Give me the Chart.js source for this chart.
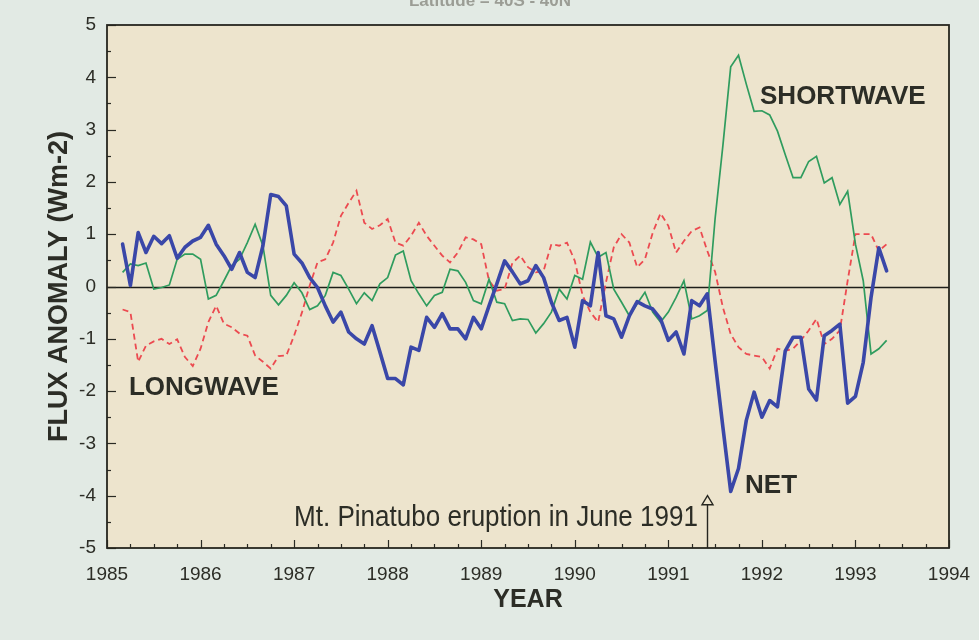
<!DOCTYPE html>
<html>
<head>
<meta charset="utf-8">
<script src="https://cdn.jsdelivr.net/npm/chart.js@4.4.1/dist/chart.umd.min.js"></script>
<style>
html,body{margin:0;padding:0;background:#e2eae4;}
#wrap{width:979px;height:640px;}
canvas{display:block;}
</style>
</head>
<body>
<div id="wrap"><canvas id="c" width="979" height="640"></canvas></div>
<script>
// ---- data (monthly anomalies, W m-2), first point March 1985 ----
const firstYear = 1985;
const firstMonth = 3;
const netFlux = [0.81,0.02,1.03,0.65,0.96,0.82,0.97,0.54,0.75,0.87,
  0.94,1.17,0.81,0.59,0.33,0.65,0.27,0.17,0.78,1.76,
  1.72,1.54,0.62,0.45,0.17,-0.02,-0.37,-0.68,-0.49,-0.87,
  -1.0,-1.10,-0.75,-1.25,-1.76,-1.76,-1.88,-1.16,-1.22,-0.59,
  -0.78,-0.52,-0.81,-0.81,-1.0,-0.59,-0.81,-0.37,0.05,0.49,
  0.28,0.05,0.11,0.40,0.17,-0.30,-0.65,-0.59,-1.16,-0.27,
  -0.37,0.65,-0.56,-0.62,-0.97,-0.56,-0.29,-0.37,-0.43,-0.62,
  -1.03,-0.87,-1.29,-0.27,-0.37,-0.14,-1.43,-2.69,-3.92,-3.48,
  -2.56,-2.02,-2.50,-2.18,-2.30,-1.23,-0.97,-0.97,-1.96,-2.17,
  -0.94,-0.84,-0.72,-2.23,-2.10,-1.45,-0.21,0.74,0.30];
const shortwave = [0.27,0.43,0.40,0.45,-0.05,-0.02,0.03,0.52,0.62,0.62,
  0.52,-0.24,-0.17,0.11,0.40,0.52,0.84,1.19,0.78,-0.17,
  -0.35,-0.17,0.07,-0.12,-0.44,-0.37,-0.17,0.27,0.21,-0.05,
  -0.33,-0.12,-0.27,0.05,0.17,0.60,0.68,0.11,-0.14,-0.37,
  -0.17,-0.11,0.33,0.30,0.08,-0.27,-0.33,0.14,-0.30,-0.33,
  -0.65,-0.62,-0.63,-0.89,-0.71,-0.49,-0.05,-0.24,0.21,0.14,
  0.85,0.56,0.65,-0.05,-0.30,-0.56,-0.33,-0.11,-0.49,-0.68,
  -0.49,-0.21,0.11,-0.62,-0.56,-0.46,1.3,2.7,4.2,4.42,
  3.87,3.35,3.36,3.28,2.97,2.52,2.08,2.08,2.39,2.49,
  1.98,2.08,1.57,1.82,0.81,0.11,-1.29,-1.19,-1.03];
const longwave = [-0.44,-0.49,-1.44,-1.13,-1.05,-1.0,-1.10,-1.01,-1.35,-1.52,
  -1.19,-0.68,-0.37,-0.71,-0.78,-0.90,-0.94,-1.32,-1.44,-1.57,
  -1.33,-1.32,-0.94,-0.50,0.02,0.46,0.52,0.84,1.35,1.60,
  1.83,1.22,1.10,1.17,1.29,0.84,0.78,0.97,1.22,0.97,
  0.78,0.59,0.46,0.65,0.94,0.90,0.81,0.11,-0.08,-0.05,
  0.45,0.59,0.37,0.27,0.30,0.81,0.78,0.84,0.49,-0.17,
  -0.49,-0.68,0.08,0.75,1.0,0.84,0.37,0.52,1.03,1.40,
  1.16,0.65,0.87,1.06,1.13,0.68,0.28,-0.40,-0.91,-1.16,
  -1.29,-1.32,-1.35,-1.57,-1.19,-1.23,-1.19,-1.03,-0.84,-0.62,
  -1.10,-1.0,-0.84,0.11,1.0,1.0,1.0,0.68,0.81];
const xTickLabels = ['1985','1986','1987','1988','1989','1990','1991','1992','1993','1994'];
const yTickLabels = ['-5','-4','-3','-2','-1','0','1','2','3','4','5'];
const seriesNames = ['NET','SHORTWAVE','LONGWAVE'];
const eruptionYear = 1991 + 5/12;
const eruptionText = 'Mt. Pinatubo eruption in June 1991';
const xTitle = 'YEAR';
const yTitle = 'FLUX ANOMALY (Wm-2)';
const topText = 'Latitude = 40S - 40N';

// ---- build ----
const monthPos = netFlux.map((_, i) => firstYear + (firstMonth - 1 + i) / 12);
const toPoints = arr => arr.map((v, i) => ({x: monthPos[i], y: v}));

const FONT = '"Liberation Sans", Arial, Helvetica, sans-serif';
const INK = '#2c2d26';
const PAGE_BG = '#e2eae4';
const PLOT_BG = '#ede4cd';

const decor = {
  id: 'decor',
  beforeDraw(chart) {
    const {ctx, chartArea: a} = chart;
    ctx.save();
    ctx.fillStyle = PAGE_BG;
    ctx.fillRect(0, 0, chart.width, chart.height);
    ctx.fillStyle = PLOT_BG;
    ctx.fillRect(a.left, a.top, a.right - a.left, a.bottom - a.top);
    ctx.restore();
  },
  beforeDatasetsDraw(chart) {
    const {ctx, chartArea: a, scales: {y}} = chart;
    ctx.save();
    ctx.strokeStyle = '#1e1e1a';
    ctx.lineWidth = 1.3;
    const y0 = Math.round(y.getPixelForValue(0)) + 0.5;
    ctx.beginPath(); ctx.moveTo(a.left, y0); ctx.lineTo(a.right, y0); ctx.stroke();
    ctx.restore();
  },
  afterDatasetsDraw(chart) {
    const {ctx, chartArea: a, scales: {x, y}} = chart;
    ctx.save();
    // ticks
    ctx.strokeStyle = '#2a2a24';
    ctx.lineWidth = 1.2;
    for (let v = y.min; v <= y.max + 1e-9; v += 0.5) {
      const py = Math.round(y.getPixelForValue(v)) + 0.5;
      const len = Math.abs(v - Math.round(v)) < 1e-9 ? 9 : 4;
      ctx.beginPath(); ctx.moveTo(a.left, py); ctx.lineTo(a.left + len, py); ctx.stroke();
    }
    for (let v = x.min; v <= x.max + 1e-9; v += 0.25) {
      const px = Math.round(x.getPixelForValue(v)) + 0.5;
      const len = Math.abs(v - Math.round(v)) < 1e-9 ? 8 : 4;
      ctx.beginPath(); ctx.moveTo(px, a.bottom); ctx.lineTo(px, a.bottom - len); ctx.stroke();
    }
    // frame
    ctx.strokeStyle = '#26261f';
    ctx.lineWidth = 1.8;
    ctx.strokeRect(a.left, a.top, a.right - a.left, a.bottom - a.top);

    // eruption marker
    const ex = Math.round(x.getPixelForValue(eruptionYear)) + 0.5;
    const tipY = y.getPixelForValue(-4);
    ctx.strokeStyle = '#26261f';
    ctx.lineWidth = 1.4;
    ctx.beginPath(); ctx.moveTo(ex, a.bottom); ctx.lineTo(ex, tipY + 9); ctx.stroke();
    ctx.fillStyle = PLOT_BG;
    ctx.beginPath();
    ctx.moveTo(ex, tipY); ctx.lineTo(ex - 5.5, tipY + 9); ctx.lineTo(ex + 5.5, tipY + 9); ctx.closePath();
    ctx.fill(); ctx.stroke();

    // eruption text (condensed)
    ctx.fillStyle = INK;
    ctx.font = '30px ' + FONT;
    ctx.textAlign = 'right';
    ctx.textBaseline = 'alphabetic';
    const w = ctx.measureText(eruptionText).width;
    const target = 404;
    const sx = target / w;
    ctx.save();
    ctx.translate(ex - 9.5, y.getPixelForValue(-4.57));
    ctx.scale(sx, 1);
    ctx.fillText(eruptionText, 0, 0);
    ctx.restore();

    // series labels
    ctx.font = 'bold 26px ' + FONT;
    ctx.textAlign = 'left';
    ctx.fillStyle = INK;
    ctx.fillText(seriesNames[1], x.getPixelForValue(1991.98), y.getPixelForValue(3.48));
    ctx.fillText(seriesNames[2], x.getPixelForValue(1985.235), y.getPixelForValue(-2.07));
    ctx.fillText(seriesNames[0], x.getPixelForValue(1991.82), y.getPixelForValue(-3.95));

    // faint heading cut at top
    ctx.font = 'bold 17px ' + FONT;
    ctx.textAlign = 'center';
    ctx.fillStyle = '#9b9d95';
    ctx.fillText(topText, 490, 6);
    ctx.restore();
  }
};

new Chart(document.getElementById('c'), {
  type: 'line',
  data: {
    datasets: [
      {label: seriesNames[0], data: toPoints(netFlux), borderColor: '#3a47a8', borderWidth: 3.6,
       pointRadius: 0, tension: 0, borderJoinStyle: 'round', borderCapStyle: 'round'},
      {label: seriesNames[1], data: toPoints(shortwave), borderColor: '#2f9c5e', borderWidth: 1.7,
       pointRadius: 0, tension: 0},
      {label: seriesNames[2], data: toPoints(longwave), borderColor: '#ec4a50', borderWidth: 1.8,
       borderDash: [6, 4], pointRadius: 0, tension: 0}
    ]
  },
  options: {
    responsive: false,
    animation: false,
    devicePixelRatio: 1,
    layout: {padding: {left: 43, right: 30, top: 25, bottom: 25}},
    plugins: {legend: {display: false}, tooltip: {enabled: false}},
    scales: {
      x: {
        type: 'linear', position: 'bottom', min: 1985, max: 1994,
        afterFit: s => { s.height = 67; s.paddingLeft = 0; s.paddingRight = 0; },
        grid: {display: false, drawTicks: false},
        border: {display: false},
        ticks: {stepSize: 1, autoSkip: false, maxRotation: 0, padding: 15, color: INK,
          font: {family: FONT, size: 19},
          callback: (v, i) => xTickLabels[i]},
        title: {display: true, text: xTitle, color: INK, padding: 0,
          font: {family: FONT, size: 25, weight: 'bold'}}
      },
      y: {
        min: -5, max: 5,
        afterFit: s => { s.width = 64; },
        grid: {display: false, drawTicks: false},
        border: {display: false},
        ticks: {stepSize: 1, autoSkip: false, padding: 11, color: INK,
          font: {family: FONT, size: 19},
          callback: (v, i) => yTickLabels[i]},
        title: {display: true, text: yTitle, color: INK, padding: 0,
          font: {family: FONT, size: 27, weight: 'bold'}}
      }
    }
  },
  plugins: [decor]
});
</script>
</body>
</html>
